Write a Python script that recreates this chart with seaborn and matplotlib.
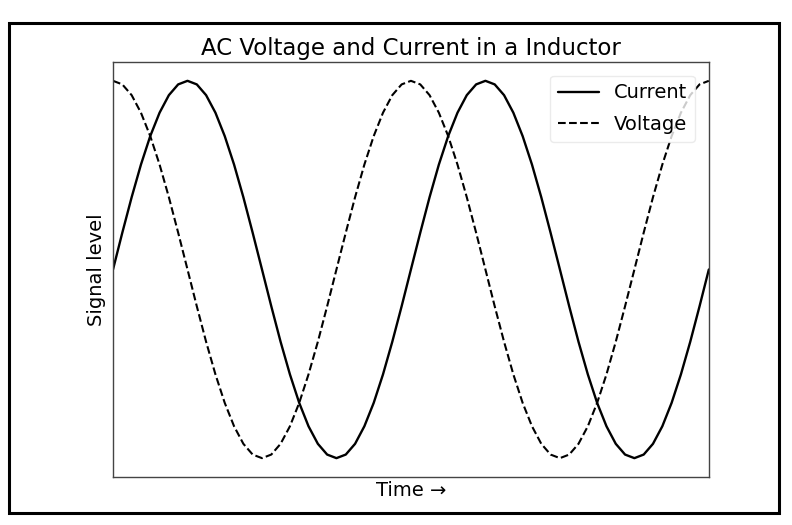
import matplotlib
matplotlib.use("Agg")
import matplotlib.pyplot as plt
import seaborn as sns
import pandas as pd
from matplotlib.patches import Rectangle

time_values = [0, 0.196, 0.393, 0.589, 0.785, 0.982, 1.178, 1.374, 1.571, 1.767, 1.963, 2.160,
               2.356, 2.553, 2.749, 2.945, 3.142, 3.338, 3.534, 3.731, 3.927, 4.123, 4.320, 4.516,
               4.712, 4.909, 5.105, 5.301, 5.498, 5.694, 5.890, 6.087, 6.283, 6.480, 6.676, 6.872,
               7.069, 7.265, 7.461, 7.658, 7.854, 8.050, 8.247, 8.443, 8.639, 8.836, 9.032, 9.228,
               9.425, 9.621, 9.817, 10.014, 10.210, 10.407, 10.603, 10.799, 10.996, 11.192, 11.388,
               11.585, 11.781, 11.977, 12.174, 12.370, 12.566]

current_values = [0, 0.195, 0.383, 0.556, 0.707, 0.831, 0.924, 0.981, 1, 0.981, 0.924, 0.831,
                  0.707, 0.556, 0.383, 0.195, 0, -0.195, -0.383, -0.556, -0.707, -0.831, -0.924, -0.981,
                  -1, -0.981, -0.924, -0.831, -0.707, -0.556, -0.383, -0.195,
                  0, 0.195, 0.383, 0.556, 0.707, 0.831, 0.924, 0.981, 1, 0.981, 0.924, 0.831,
                  0.707, 0.556, 0.383, 0.195, 0, -0.195, -0.383, -0.556, -0.707, -0.831, -0.924, -0.981,
                  -1, -0.981, -0.924, -0.831, -0.707, -0.556, -0.383, -0.195, 0]

voltage_values = [1, 0.981, 0.924, 0.831, 0.707, 0.556, 0.383, 0.195, 0, -0.195, -0.383, -0.556,
                  -0.707, -0.831, -0.924, -0.981, -1, -0.981, -0.924, -0.831, -0.707, -0.556, -0.383, -0.195,
                  0, 0.195, 0.383, 0.556, 0.707, 0.831, 0.924, 0.981,
                  1, 0.981, 0.924, 0.831, 0.707, 0.556, 0.383, 0.195, 0, -0.195, -0.383, -0.556,
                  -0.707, -0.831, -0.924, -0.981, -1, -0.981, -0.924, -0.831, -0.707, -0.556, -0.383, -0.195,
                  0, 0.195, 0.383, 0.556, 0.707, 0.831, 0.924, 0.981, 1]

series_labels = ["Current", "Voltage"]
title_text = "AC Voltage and Current in a Inductor"
x_label = "Time \u2192"
y_label = "Signal level"

sns.set_style("white")
plt.rcParams['font.family'] = ['DejaVu Sans']
plt.rcParams['text.color'] = 'black'
plt.rcParams['axes.labelcolor'] = 'black'

df = pd.DataFrame({"time": time_values, "Current": current_values, "Voltage": voltage_values})

fig = plt.figure(figsize=(7.92, 5.25), dpi=100)
ax = fig.add_axes([0.1427, 0.0914, 0.7523, 0.7906])

sns.lineplot(data=df, x="time", y="Current", ax=ax, color="black", linewidth=1.7,
             linestyle="-", label=series_labels[0])
sns.lineplot(data=df, x="time", y="Voltage", ax=ax, color="black", linewidth=1.5,
             linestyle="--", label=series_labels[1])

ax.set_xlim(time_values[0], time_values[-1])
ax.set_ylim(-1.1, 1.1)
ax.set_xticks([])
ax.set_yticks([])
ax.set_title(title_text, fontsize=16.5, pad=5, color="black")
ax.set_xlabel(x_label, fontsize=14, labelpad=3)
ax.set_ylabel(y_label, fontsize=14, labelpad=5)
for s in ax.spines.values():
    s.set_color("#444444")
    s.set_linewidth(1.0)

leg = ax.legend(loc="upper right", fontsize=14, frameon=True, handlelength=2.1,
                borderaxespad=0.7, labelspacing=0.65)
leg.get_frame().set_edgecolor("#e6e6e6")
for t in leg.get_texts():
    t.set_color("black")

fig.patches.append(Rectangle((0.0114, 0.023), 0.972, 0.933, transform=fig.transFigure,
                             fill=False, edgecolor="black", linewidth=2.2))

fig.savefig("out.png", dpi=100)
